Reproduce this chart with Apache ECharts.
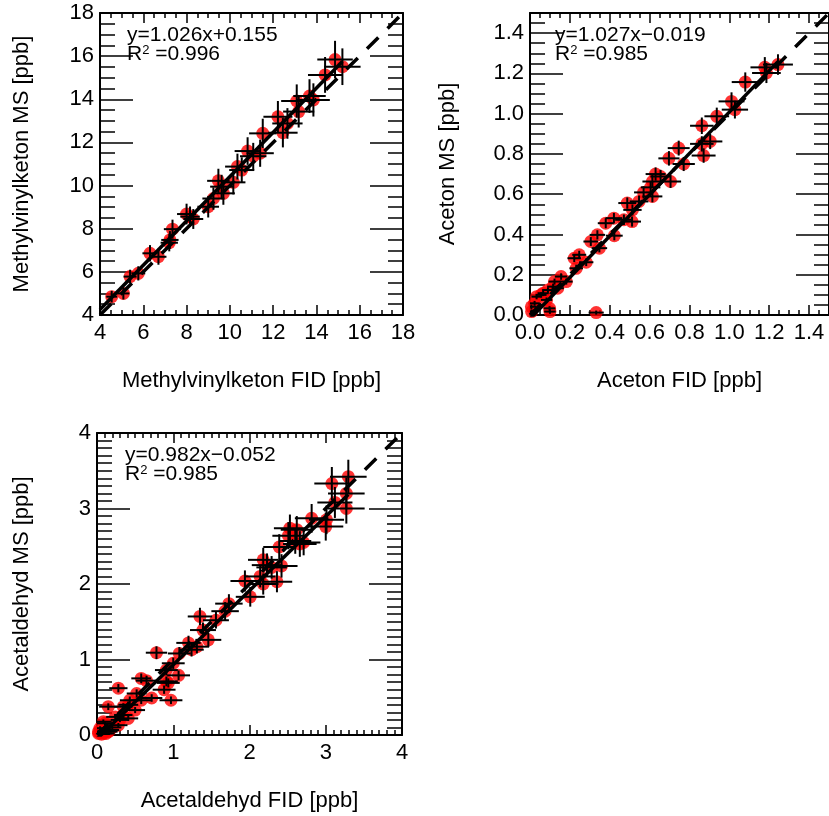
<!DOCTYPE html>
<html>
<head>
<meta charset="utf-8">
<script src="https://cdn.jsdelivr.net/npm/echarts@6/dist/echarts.min.js"></script>
<style>
  html, body { margin: 0; padding: 0; background: #fff; }
  #chart { width: 829px; height: 816px; }
</style>
</head>
<body>
<div id="chart"></div>
<script>
// [FID, MS, FID error, MS error] in ppb
const mvkPoints = [
  [4.54, 4.85, 0.25, 0.27], [5.08, 5.00, 0.28, 0.28], [5.39, 5.78, 0.30, 0.32],
  [5.77, 5.93, 0.32, 0.33], [6.31, 6.86, 0.35, 0.38], [6.70, 6.70, 0.37, 0.37],
  [7.23, 7.48, 0.40, 0.41], [7.35, 7.98, 0.40, 0.44], [7.20, 7.35, 0.40, 0.40],
  [8.00, 8.68, 0.44, 0.48], [8.16, 8.56, 0.45, 0.47], [8.31, 8.45, 0.46, 0.46],
  [9.00, 9.02, 0.50, 0.50], [9.24, 9.40, 0.51, 0.52], [9.47, 10.22, 0.52, 0.56],
  [9.62, 9.95, 0.53, 0.55], [9.70, 9.64, 0.53, 0.53], [10.16, 10.15, 0.56, 0.56],
  [10.35, 10.88, 0.57, 0.60], [10.55, 10.72, 0.58, 0.59], [10.82, 11.60, 0.60, 0.64],
  [11.08, 11.36, 0.61, 0.62], [11.40, 11.50, 0.63, 0.63], [11.52, 12.42, 0.63, 0.68],
  [12.22, 13.19, 0.67, 0.73], [12.45, 12.45, 0.68, 0.68], [12.66, 12.88, 0.70, 0.71],
  [13.09, 13.92, 0.72, 0.77], [13.18, 13.43, 0.72, 0.74], [13.68, 14.15, 0.75, 0.78],
  [13.86, 13.97, 0.76, 0.77], [14.40, 15.13, 0.79, 0.83], [14.86, 15.84, 0.82, 0.87],
  [15.20, 15.51, 0.84, 0.85]
];

const acetonPoints = [
  [1.244, 1.244, 0.075, 0.051], [1.178, 1.230, 0.072, 0.051], [1.186, 1.202, 0.072, 0.050],
  [1.080, 1.157, 0.068, 0.048], [1.011, 1.061, 0.065, 0.045], [1.028, 1.020, 0.066, 0.044],
  [0.937, 0.987, 0.062, 0.043], [0.862, 0.940, 0.059, 0.041], [0.904, 0.862, 0.061, 0.038],
  [0.862, 0.850, 0.059, 0.038], [0.871, 0.792, 0.060, 0.036], [0.746, 0.829, 0.055, 0.037],
  [0.697, 0.778, 0.053, 0.036], [0.771, 0.750, 0.056, 0.035], [0.655, 0.688, 0.051, 0.033],
  [0.614, 0.663, 0.050, 0.032], [0.705, 0.663, 0.053, 0.032], [0.605, 0.634, 0.049, 0.031],
  [0.570, 0.609, 0.048, 0.030], [0.614, 0.589, 0.050, 0.029], [0.547, 0.564, 0.047, 0.029],
  [0.488, 0.556, 0.045, 0.028], [0.514, 0.522, 0.046, 0.027], [0.471, 0.473, 0.044, 0.026],
  [0.421, 0.481, 0.042, 0.026], [0.380, 0.456, 0.040, 0.025], [0.512, 0.464, 0.045, 0.025],
  [0.423, 0.394, 0.042, 0.023], [0.338, 0.398, 0.039, 0.023], [0.305, 0.365, 0.037, 0.022],
  [0.348, 0.332, 0.039, 0.021], [0.247, 0.299, 0.035, 0.020], [0.282, 0.262, 0.036, 0.019],
  [0.222, 0.282, 0.034, 0.019], [0.232, 0.232, 0.034, 0.018], [0.156, 0.191, 0.031, 0.016],
  [0.182, 0.166, 0.032, 0.015], [0.123, 0.166, 0.030, 0.015], [0.139, 0.133, 0.031, 0.014],
  [0.116, 0.141, 0.030, 0.015], [0.090, 0.124, 0.029, 0.014], [0.066, 0.108, 0.028, 0.014],
  [0.056, 0.100, 0.027, 0.013], [0.033, 0.091, 0.026, 0.013], [0.083, 0.075, 0.028, 0.012],
  [0.023, 0.058, 0.026, 0.012], [0.007, 0.041, 0.025, 0.011], [0.098, 0.033, 0.029, 0.011],
  [0.008, 0.017, 0.025, 0.011], [0.100, 0.017, 0.029, 0.011], [0.332, 0.012, 0.038, 0.010],
  [0.630, 0.700, 0.050, 0.033]
];

const acetaldehydPoints = [
  [3.296, 3.421, 0.24, 0.225], [3.08, 3.33, 0.23, 0.22], [3.27, 3.20, 0.24, 0.21],
  [3.12, 3.08, 0.23, 0.205], [3.27, 3.00, 0.24, 0.20], [2.815, 2.87, 0.22, 0.19],
  [3.01, 2.85, 0.23, 0.19], [3.00, 2.76, 0.23, 0.185], [2.53, 2.74, 0.21, 0.18],
  [2.62, 2.72, 0.21, 0.18], [2.51, 2.64, 0.21, 0.18], [2.60, 2.57, 0.21, 0.17],
  [2.66, 2.53, 0.22, 0.17], [2.71, 2.55, 0.22, 0.17], [2.39, 2.49, 0.21, 0.17],
  [2.18, 2.32, 0.20, 0.16], [2.23, 2.25, 0.20, 0.155], [2.42, 2.24, 0.21, 0.155],
  [2.29, 2.22, 0.20, 0.15], [2.14, 2.10, 0.20, 0.145], [1.94, 2.04, 0.19, 0.14],
  [2.18, 2.00, 0.20, 0.14], [2.36, 2.03, 0.20, 0.14], [2.01, 1.83, 0.19, 0.13],
  [1.73, 1.74, 0.18, 0.125], [1.68, 1.64, 0.18, 0.12], [1.56, 1.52, 0.17, 0.11],
  [1.35, 1.57, 0.16, 0.115], [1.39, 1.39, 0.17, 0.10], [1.46, 1.26, 0.17, 0.095],
  [1.20, 1.22, 0.16, 0.095], [1.31, 1.17, 0.16, 0.09], [1.24, 1.13, 0.16, 0.09],
  [1.08, 1.08, 0.15, 0.085], [0.78, 1.09, 0.14, 0.085], [1.00, 0.95, 0.15, 0.075],
  [0.91, 0.86, 0.15, 0.07], [1.07, 0.79, 0.15, 0.065], [0.935, 0.69, 0.15, 0.06],
  [0.58, 0.75, 0.13, 0.065], [0.65, 0.72, 0.14, 0.065], [0.91, 0.71, 0.15, 0.065],
  [0.88, 0.60, 0.15, 0.055], [0.52, 0.55, 0.13, 0.055], [0.28, 0.62, 0.12, 0.055],
  [0.717, 0.49, 0.14, 0.05], [0.97, 0.46, 0.15, 0.05], [0.58, 0.46, 0.13, 0.05],
  [0.43, 0.46, 0.13, 0.05], [0.41, 0.40, 0.13, 0.045], [0.148, 0.375, 0.12, 0.045],
  [0.345, 0.375, 0.12, 0.045], [0.50, 0.33, 0.13, 0.04], [0.345, 0.265, 0.12, 0.035],
  [0.24, 0.24, 0.12, 0.035], [0.41, 0.22, 0.13, 0.035], [0.30, 0.20, 0.12, 0.03],
  [0.105, 0.155, 0.11, 0.03], [0.083, 0.176, 0.11, 0.03], [0.28, 0.13, 0.12, 0.03],
  [0.04, 0.09, 0.11, 0.025], [0.17, 0.066, 0.12, 0.025], [0.02, 0.044, 0.11, 0.025],
  [0.083, 0.022, 0.11, 0.02], [0.15, 0.044, 0.12, 0.025], [0.06, 0.01, 0.11, 0.02],
  [0.12, 0.02, 0.11, 0.02], [0.20, 0.10, 0.12, 0.025], [0.02, 0.02, 0.11, 0.02]
];

// fit results as printed in the panels
const mvkFit = { slope: 1.026, intercept: 0.155, r2: '0.996' };
const acetonFit = { slope: 1.027, intercept: -0.019, r2: '0.985' };
const acetaldehydFit = { slope: 0.982, intercept: -0.052, r2: '0.985' };

const FONT = '"Liberation Sans", Arial, sans-serif';
const FS = 22;

const panels = [
  {
    points: mvkPoints, fit: mvkFit, min: 4, max: 18, interval: 2, minor: 4, digits: 0,
    grid: { left: 100, top: 13, width: 303, height: 302 },
    xName: 'Methylvinylketon FID [ppb]', yName: 'Methylvinylketon MS [ppb]',
    xGap: 55, yGap: 67, text: [127, 25]
  },
  {
    points: acetonPoints, fit: acetonFit, min: 0, max: 1.5, interval: 0.2, minor: 4, digits: 1,
    grid: { left: 530, top: 13, width: 301, height: 302 },
    xName: 'Aceton FID [ppb]', yName: 'Aceton MS [ppb]',
    xGap: 55, yGap: 71, text: [555, 25]
  },
  {
    points: acetaldehydPoints, fit: acetaldehydFit, min: 0, max: 4, interval: 1, minor: 10, digits: 0,
    grid: { left: 97, top: 433, width: 305, height: 302 },
    xName: 'Acetaldehyd FID [ppb]', yName: 'Acetaldehyd MS [ppb]',
    xGap: 55, yGap: 64, text: [125, 445]
  }
];

function fmtEq(fit) {
  const sign = fit.intercept < 0 ? '\u2212' : '+';
  return 'y=' + fit.slope.toFixed(3) + 'x' + sign + Math.abs(fit.intercept).toFixed(3);
}

function errorBars(params, api) {
  const x = api.value(0), y = api.value(1), ex = api.value(2), ey = api.value(3);
  const l = api.coord([x - ex, y]), r = api.coord([x + ex, y]);
  const b = api.coord([x, y - ey]), t = api.coord([x, y + ey]);
  const style = { stroke: '#000', lineWidth: 2 };
  return {
    type: 'group',
    children: [
      { type: 'line', shape: { x1: l[0], y1: l[1], x2: r[0], y2: r[1] }, style },
      { type: 'line', shape: { x1: b[0], y1: b[1], x2: t[0], y2: t[1] }, style }
    ]
  };
}

const grids = [], xAxes = [], yAxes = [], series = [], graphics = [];

panels.forEach((p, i) => {
  grids.push(p.grid);
  const label = {
    fontSize: FS, color: '#000', fontFamily: FONT,
    showMaxLabel: p.max % p.interval === 0,
    formatter: v => v.toFixed(p.digits)
  };
  const line = { show: true, onZero: false, lineStyle: { color: '#000', width: 2 } };
  const base = { type: 'value', gridIndex: i, min: p.min, max: p.max, interval: p.interval, splitLine: { show: false } };

  const xTick = { show: true, inside: true, length: 10, lineStyle: { color: '#000', width: 1.5 } };
  const xMinor = { show: true, splitNumber: p.minor, length: 5, lineStyle: { color: '#000', width: 1.5 } };
  const yTick = { show: true, inside: true, length: 33, lineStyle: { color: '#000', width: 1.5 } };
  const yMinor = { show: true, splitNumber: p.minor, length: 15, lineStyle: { color: '#000', width: 1.5 } };

  xAxes.push(Object.assign({}, base, {
    position: 'bottom', name: p.xName, nameLocation: 'middle', nameGap: p.xGap,
    nameTextStyle: { fontSize: FS, color: '#000', fontFamily: FONT },
    axisLine: line, axisTick: xTick, minorTick: xMinor,
    axisLabel: Object.assign({ margin: 7 }, label)
  }));
  xAxes.push(Object.assign({}, base, {
    position: 'top', axisLine: line, axisTick: xTick, minorTick: xMinor, axisLabel: { show: false }
  }));
  yAxes.push(Object.assign({}, base, {
    position: 'left', name: p.yName, nameLocation: 'middle', nameGap: p.yGap,
    nameTextStyle: { fontSize: FS, color: '#000', fontFamily: FONT },
    axisLine: line, axisTick: yTick, minorTick: yMinor,
    axisLabel: Object.assign({ margin: 6 }, label)
  }));
  yAxes.push(Object.assign({}, base, {
    position: 'right', axisLine: line, axisTick: yTick, minorTick: yMinor, axisLabel: { show: false }
  }));

  const xi = i * 2, yi = i * 2;
  series.push({
    type: 'scatter', xAxisIndex: xi, yAxisIndex: yi, z: 2,
    symbolSize: 13, itemStyle: { color: '#ff0000' },
    data: p.points.map(d => [d[0], d[1]])
  });
  series.push({
    type: 'custom', xAxisIndex: xi, yAxisIndex: yi, z: 3, clip: true,
    renderItem: errorBars, encode: { x: 0, y: 1 },
    data: p.points
  });
  const xEnd = Math.max(...p.points.map(d => d[0]));
  series.push({
    type: 'line', xAxisIndex: xi, yAxisIndex: yi, z: 4, symbol: 'none', silent: true,
    lineStyle: { color: '#000', width: 3.5 },
    data: [[p.min, p.fit.slope * p.min + p.fit.intercept], [xEnd, p.fit.slope * xEnd + p.fit.intercept]]
  });
  series.push({
    type: 'line', xAxisIndex: xi, yAxisIndex: yi, z: 4, symbol: 'none', silent: true,
    lineStyle: { color: '#000', width: 3.5, type: [16, 13] },
    data: [[p.min, p.min], [p.max, p.max]]
  });

  graphics.push({
    type: 'text', left: p.text[0], top: p.text[1], z: 10,
    style: { text: fmtEq(p.fit), fontSize: 21, fontFamily: FONT, fill: '#000' }
  });
  graphics.push({
    type: 'text', left: p.text[0], top: p.text[1] + 19, z: 10,
    style: {
      text: 'R{s|2} =' + p.fit.r2, fontSize: 21, fontFamily: FONT, fill: '#000',
      rich: { s: { fontSize: 13, fontFamily: FONT, verticalAlign: 'top', fill: '#000' } }
    }
  });
});

const myChart = echarts.init(document.getElementById('chart'), null, { renderer: 'canvas' });
myChart.setOption({
  animation: false,
  backgroundColor: '#fff',
  grid: grids,
  xAxis: xAxes,
  yAxis: yAxes,
  series: series,
  graphic: graphics
});
</script>
</body>
</html>
